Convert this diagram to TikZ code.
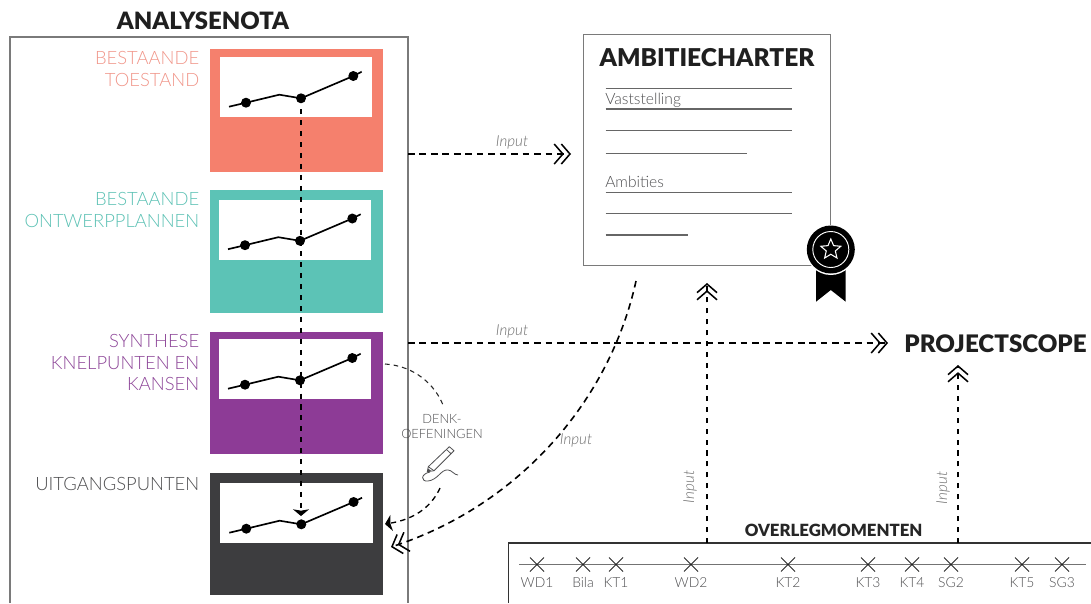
\documentclass[tikz,border=0pt]{standalone}
\usepackage{fontspec}
\setmainfont{Lato}
\newfontfamily\lightfont{Lato Light}
\newfontfamily\heavyfont{Lato Black}
\usetikzlibrary{arrows.meta,shapes.geometric}
\def\pxu{0.75pt}
\definecolor{redbox}{HTML}{F5806D}
\definecolor{tealbox}{HTML}{5CC3B6}
\definecolor{purplebox}{HTML}{8D3B96}
\definecolor{darkbox}{HTML}{3D3D3F}
\definecolor{redtext}{HTML}{F0968A}
\definecolor{tealtext}{HTML}{5CC1B4}
\definecolor{purpletext}{HTML}{8D4698}
\definecolor{darktext}{HTML}{4E4E50}
\definecolor{framegray}{HTML}{7A7A7A}
\definecolor{inputgray}{HTML}{6E6E6E}
\tikzset{
  x=0.75pt,y=-0.75pt,
  panel/.style={minimum width=173*\pxu,minimum height=122.5*\pxu,inner sep=0pt,draw=none},
  screen/.style={fill=white,draw=none,minimum width=152.5*\pxu,minimum height=60*\pxu,inner sep=0pt},
  heading/.style={font=\heavyfont\fontsize{18.1pt}{20pt}\selectfont,text=black!88,inner sep=0pt},
  sidelabel/.style={font=\lightfont\fontsize{13.8pt}{16.2pt}\selectfont,anchor=north east,align=right,inner sep=0pt},
  inputlabel/.style={font=\lightfont\itshape\fontsize{11.4pt}{13pt}\selectfont,text=inputgray,inner sep=0pt},
  ticklabel/.style={font=\lightfont\fontsize{10pt}{12pt}\selectfont,text=darktext,inner sep=0pt},
  ruleline/.style={draw=black!60,line width=0.8pt},
  flow/.style={draw=black,line width=1.2pt,dash pattern=on 5pt off 3.6pt},
  vflow/.style={draw=black,line width=1.1pt,dash pattern=on 3.8pt off 4.4pt},
  thinflow/.style={draw=black!85,line width=0.8pt,dash pattern=on 3.5pt off 3pt},
  chev/.style={-{Straight Barb[length=6.5pt,width=15pt,line width=1.15pt,sep=-2.5pt]Straight Barb[length=6.5pt,width=15pt,line width=1.15pt]}},
  flathead/.style={-{Stealth[length=5pt,width=12pt,inset=1pt]}},
  crossmark/.pic={\draw[draw=black!85,line width=0.7pt] (-7,-7) -- (7,7) (-7,7) -- (7,-7);},
  chart/.pic={
    \draw[black,line width=1.25pt] (9,49.7) -- (26,45.7) -- (59.3,37.7) -- (81,41.3) -- (133.3,19) -- (141.7,14.7);
    \fill[black] (26,45.7) circle[radius=5] (133.3,19) circle[radius=5];
    \fill[black] (81,41.3) circle[radius=5];
    \coordinate (-mid) at (81,41.3);
  }
}
\begin{document}
\begin{tikzpicture}
\useasboundingbox (0,0) rectangle (1091,603);

% analysenota
\node[heading,font=\heavyfont\fontsize{17.9pt}{20pt}\selectfont] (analyse) at (203,21) {ANALYSENOTA};
\draw[framegray,line width=0.8pt] (10,603) -- (10,37) -- (408,37) -- (408,603);

\node[panel,fill=redbox] (redp) at (296.5,110.7) {};
\node[screen] (reds) at (296,87) {};
\node[panel,fill=tealbox] (tealp) at (296.5,251.5) {};
\node[screen] (teals) at (295.2,229.5) {};
\node[panel,fill=purplebox] (purplep) at (296.5,393) {};
\node[screen] (purples) at (295.2,369) {};
\node[panel,fill=darkbox] (darkp) at (296.5,534) {};
\node[screen] (darks) at (296.5,513) {};

\pic (c1) at (220,57) {chart};
\pic (c2) at (219,199.5) {chart};
\pic (c3) at (219,339) {chart};
\pic (c4) at (220.3,483) {chart};

\node[sidelabel,text=redtext] (lab1) at (199.5,51) {BESTAANDE\\TOESTAND};
\node[sidelabel,text=tealtext] (lab2) at (199.5,192) {BESTAANDE\\ONTWERPPLANNEN};
\node[sidelabel,text=purpletext] (lab3) at (199.5,334) {SYNTHESE\\KNELPUNTEN EN\\KANSEN};
\node[sidelabel,text=darktext] (lab4) at (199.5,476.7) {UITGANGSPUNTEN};

\coordinate (vend) at (301,516);
\draw[vflow,flathead] (c1-mid) -- (vend);

% charter
\node[draw=framegray,line width=0.8pt,minimum width=247.5*\pxu,minimum height=231*\pxu,inner sep=0pt] (charter) at (707,149.7) {};
\node[heading,font=\heavyfont\fontsize{18.4pt}{20pt}\selectfont] (chartertitle) at (707,58) {AMBITIECHARTER};
\draw[ruleline] (605.5,88.3) -- (792,88.3) (605.5,109) -- (792,109) (605.5,130.3) -- (792,130.3) (605.5,153.3) -- (747,153.3)
  (605.5,192.3) -- (792,192.3) (605.5,213.7) -- (792,213.7) (605.5,235) -- (688,235);
\node[ticklabel,anchor=base west,font=\lightfont\fontsize{11.7pt}{13pt}\selectfont] (vast) at (605,104) {Vaststelling};
\node[ticklabel,anchor=base west,font=\lightfont\fontsize{11.7pt}{13pt}\selectfont] (amb) at (605,187.7) {Ambities};

% badge
\fill[black] (816,268) -- (845.7,268) -- (845.7,301.7) -- (830.8,290) -- (816,301.7) -- cycle;
\node[circle,fill=white,minimum size=50*\pxu,inner sep=0pt] (badgeback) at (830.8,250) {};
\node[circle,fill=black,minimum size=48*\pxu,inner sep=0pt] (badge) at (830.8,249.5) {};
\node[circle,draw=white,line width=0.7pt,minimum size=36*\pxu,inner sep=0pt] (badgering) at (830.8,249.5) {};
\node[star,star points=5,star point ratio=2.2,draw=white,line width=0.8pt,minimum size=21*\pxu,inner sep=0pt] (badgestar) at (830.8,249.5) {};

% projectscope
\node[heading] (scope) at (995.5,344) {PROJECTSCOPE};

% flows
\coordinate (a1s) at (408,154);
\coordinate (a1e) at (571,154);
\draw[flow,chev] (a1s) -- (a1e);
\node[inputlabel] (in1) at (512,142) {Input};
\coordinate (a2s) at (408,343);
\coordinate (a2e) at (888,343);
\draw[flow,chev] (a2s) -- (a2e);
\node[inputlabel] (in2) at (512,331) {Input};

\coordinate (a3s) at (636,281);
\coordinate (a3e) at (391,547);
\draw[flow,chev] (a3s) .. controls (610,400) and (520,505) .. (a3e);
\node[inputlabel] (in3) at (576,440) {Input};

% overleg
\node[font=\heavyfont\fontsize{12.6pt}{14pt}\selectfont,text=black!85,inner sep=0pt] (overleg) at (833.6,530.7) {OVERLEGMOMENTEN};
\coordinate (ovtl) at (508.5,543);
\coordinate (ovb) at (508.5,603);
\coordinate (ovr) at (1091,543);
\draw[black!80,line width=0.8pt] (ovb) -- (ovtl) -- (ovr);
\coordinate (wd2up) at (707,543);
\coordinate (wd2top) at (707,283);
\draw[flow,vflow,line width=1.2pt,chev] (wd2up) -- (wd2top);
\coordinate (sg2up) at (958,543);
\coordinate (sg2top) at (958,365);
\draw[flow,vflow,line width=1.2pt,chev] (sg2up) -- (sg2top);
\node[inputlabel,rotate=90] (in4) at (690,487) {Input};
\node[inputlabel,rotate=90] (in5) at (943,488) {Input};

\coordinate (tl0) at (519,564.5);
\coordinate (tl1) at (1086,564.5);
\draw[black!55,line width=0.7pt] (tl0) -- (tl1);
\foreach \xx/\lbl in {537/WD1,583/Bila,616/KT1,691/WD2,788/KT2,868/KT3,912/KT4,951/SG2,1022/KT5,1062/SG3}{
  \pic at (\xx,564.5) {crossmark};
  \node[ticklabel,font=\lightfont\fontsize{10.4pt}{12pt}\selectfont] (t\lbl) at (\xx,583) {\lbl};
}

% denk
\node[ticklabel,align=center,font=\lightfont\fontsize{9.6pt}{11.3pt}\selectfont] (denk) at (442,426.5) {DENK-\\OEFENINGEN};
\coordinate (d1s) at (385,364);
\coordinate (d1e) at (443,405);
\draw[thinflow] (d1s) .. controls (415,366) and (435,385) .. (d1e);
\coordinate (d2s) at (440,488);
\coordinate (d2e) at (385,524);
\draw[flow,line width=1pt,dash pattern=on 4pt off 3.2pt,flathead] (d2s) .. controls (430,510) and (410,520) .. (d2e);

% pencil
\draw[darktext,line width=0.6pt,line join=round] (427.3,471.7) -- (428.3,466.7) -- (449.3,446.7) -- (454,450.7) -- (434,470.7) -- cycle;
\draw[darktext,line width=0.6pt] (428.3,466.7) -- (434,470.7) (446.5,449.5) -- (451,453.7);
\fill[darktext] (427.3,471.7) -- (428,468.5) -- (431,470.7) -- cycle;
\draw[darktext,line width=0.6pt] (430,472) .. controls (420,474) and (421,482) .. (428,481) .. controls (438,480) and (441,469) .. (448,470) .. controls (452,470) and (454,475) .. (458,475);
\end{tikzpicture}
\end{document}
